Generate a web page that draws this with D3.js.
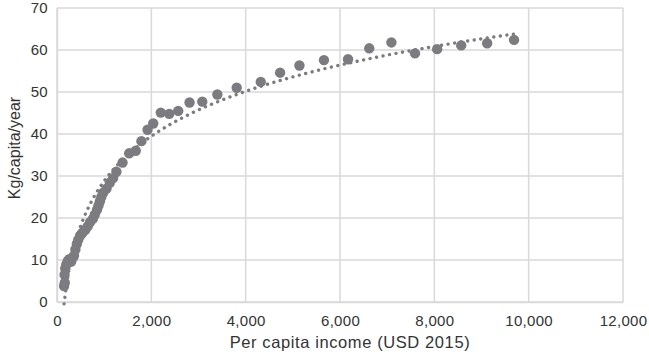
<!DOCTYPE html>
<html>
<head>
<meta charset="utf-8">
<script src="https://cdn.jsdelivr.net/npm/d3@7"></script>
<style>
  body { margin: 0; background: #fff; }
  text { font-family: "Liberation Sans", Arial, sans-serif; }
</style>
</head>
<body>
<div id="chart"></div>
<script>
// per capita income (USD 2015)
var incomes = [150, 165, 160, 175, 200, 230, 260, 300, 330, 360, 390, 420, 450, 490, 540,
    600, 650, 700, 760, 800, 850, 880, 910, 940, 980, 1050, 1120, 1190, 1260, 1390,
    1530, 1670, 1790, 1920, 2040, 2200, 2380, 2570, 2810, 3080, 3400, 3810, 4320,
    4730, 5140, 5660, 6170, 6620, 7090, 7590, 8060, 8570, 9120, 9690];
// kg/capita/year
var consumption = [3.8, 4.6, 6.5, 8.0, 9.0, 9.8, 10.2, 9.6, 10.5, 11.0, 12.5, 13.8, 14.8, 15.8, 16.5,
    17.2, 18.0, 19.0, 19.8, 20.8, 22.0, 23.0, 24.0, 25.0, 26.0, 27.0, 28.4, 29.5, 31.0, 33.2,
    35.4, 36.0, 38.3, 41.0, 42.5, 45.1, 44.8, 45.5, 47.5, 47.7, 49.4, 51.0, 52.4,
    54.6, 56.3, 57.6, 57.8, 60.4, 61.8, 59.2, 60.2, 61.1, 61.6, 62.4];
var xTicks = [0, 2000, 4000, 6000, 8000, 10000, 12000];
var yTicks = [0, 10, 20, 30, 40, 50, 60, 70];

var svgWidth = 649, svgHeight = 357;
var margin = {top: 8, right: 26, bottom: 55, left: 57};
var width = svgWidth - margin.left - margin.right;
var height = svgHeight - margin.top - margin.bottom;

var svg = d3.select('#chart').append('svg')
    .attr('width', svgWidth).attr('height', svgHeight);
var g = svg.append('g')
    .attr('transform', 'translate(' + margin.left + ',' + margin.top + ')');

var x = d3.scaleLinear().domain([0, 12000]).range([0, width]);
var y = d3.scaleLinear().domain([0, 70]).range([height, 0]);

// gridlines
g.append('g').selectAll('line').data(yTicks).enter().append('line')
    .attr('x1', 0).attr('x2', width)
    .attr('y1', function(d) { return y(d); }).attr('y2', function(d) { return y(d); })
    .attr('stroke', '#d9d9d9').attr('stroke-width', 1.5);
g.append('g').selectAll('line').data(xTicks).enter().append('line')
    .attr('y1', 0).attr('y2', height)
    .attr('x1', function(d) { return x(d); }).attr('x2', function(d) { return x(d); })
    .attr('stroke', '#d9d9d9').attr('stroke-width', 1.5);

// axes (labels only, lines drawn by grid)
var xAxis = g.append('g')
    .attr('transform', 'translate(0,' + height + ')')
    .call(d3.axisBottom(x).tickValues(xTicks).tickSize(0).tickPadding(13)
        .tickFormat(d3.format(',')));
var yAxis = g.append('g')
    .call(d3.axisLeft(y).tickValues(yTicks).tickSize(0).tickPadding(9));
[xAxis, yAxis].forEach(function(a) {
    a.select('.domain').attr('stroke', '#d9d9d9').attr('stroke-width', 1.5);
    a.selectAll('text').attr('font-size', 15).attr('fill', '#333')
        .attr('letter-spacing', 0.3)
        .attr('font-family', '"Liberation Sans", Arial, sans-serif');
});

// points
var data = incomes.map(function(d, i) { return {x: d, y: consumption[i]}; });
g.append('g').selectAll('circle').data(data).enter().append('circle')
    .attr('cx', function(d) { return x(d.x); })
    .attr('cy', function(d) { return y(d.y); })
    .attr('r', 5.2)
    .attr('fill', '#7c7c80');

// logarithmic trendline (least squares on ln x)
var lx = data.map(function(d) { return Math.log(d.x); });
var mx = d3.mean(lx), my = d3.mean(data, function(d) { return d.y; });
var sxy = d3.sum(data, function(d, i) { return (lx[i] - mx) * (d.y - my); });
var sxx = d3.sum(lx, function(v) { return (v - mx) * (v - mx); });
var slope = sxy / sxx, icpt = my - slope * mx;
var xMin = d3.min(incomes), xMax = d3.max(incomes);
var trend = d3.range(0, 201).map(function(i) {
    var xv = xMin + (xMax - xMin) * i / 200;
    return {x: xv, y: slope * Math.log(xv) + icpt};
});
g.append('path')
    .datum(trend)
    .attr('fill', 'none')
    .attr('stroke', '#7c7c80')
    .attr('stroke-width', 3.4)
    .attr('stroke-linecap', 'round')
    .attr('stroke-dasharray', '0.01 6.6')
    .attr('d', d3.line().x(function(d) { return x(d.x); }).y(function(d) { return y(d.y); }));

// axis titles
svg.append('text')
    .attr('x', 350).attr('y', 348)
    .attr('text-anchor', 'middle').attr('font-size', 16.5).attr('fill', '#333')
    .attr('letter-spacing', 0.6)
    .text('Per capita income (USD 2015)');
svg.append('text')
    .attr('transform', 'translate(20,148) rotate(-90)')
    .attr('text-anchor', 'middle').attr('font-size', 16).attr('fill', '#333')
    .text('Kg/capita/year');
</script>
</body>
</html>
